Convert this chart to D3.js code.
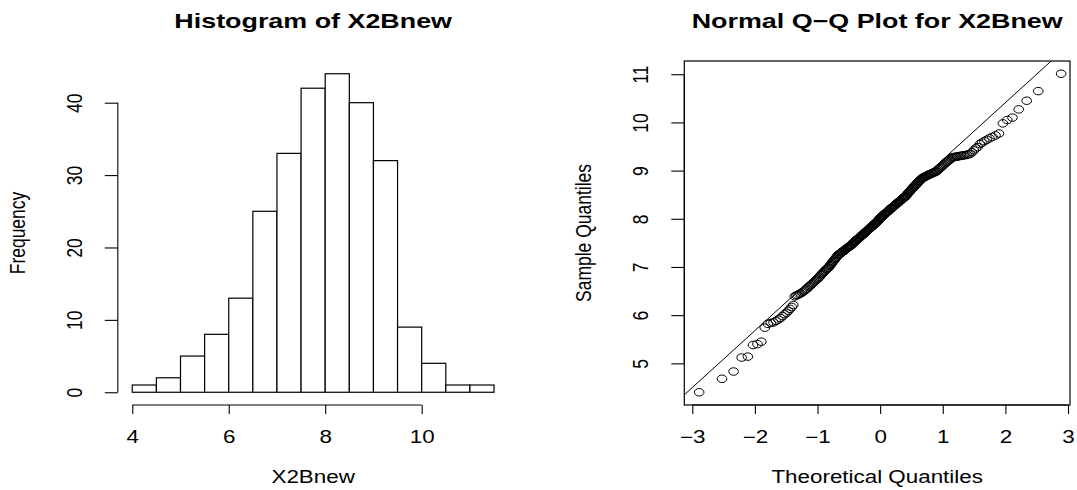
<!DOCTYPE html>
<html>
<head>
<meta charset="utf-8">
<script src="https://cdn.jsdelivr.net/npm/d3@7"></script>
<style>
  body { margin: 0; background: white; }
  svg { display: block; font-family: "Liberation Sans", Arial, sans-serif; }
  .tick line, .axisline { stroke: black; stroke-width: 1.1; }
</style>
</head>
<body>
<svg id="chart" width="1077" height="490"></svg>
<script>
// sorted sample of X2Bnew (n = 260)
var sample = [
  4.40, 4.68, 4.83, 5.12, 5.14, 5.38, 5.40, 5.45, 5.74, 5.82,
  5.84, 5.85, 5.88, 5.91, 5.94, 5.98,
  6.02, 6.05, 6.09, 6.13, 6.17, 6.21, 6.39, 6.41, 6.42, 6.44, 6.45, 6.47, 6.49,
  6.51, 6.53, 6.55, 6.58, 6.60, 6.62, 6.64, 6.66, 6.68, 6.70,
  6.72, 6.74, 6.76, 6.78, 6.80, 6.83, 6.85, 6.87, 6.89, 6.91,
  6.93, 6.95, 6.96, 6.98, 6.99,
  7.02, 7.04, 7.06, 7.09, 7.11, 7.13, 7.15, 7.17, 7.19, 7.21, 7.24,
  7.25, 7.26, 7.27, 7.28, 7.30, 7.31, 7.32, 7.33, 7.34, 7.35,
  7.37, 7.38, 7.39, 7.40, 7.41, 7.42, 7.43, 7.44, 7.45, 7.46, 7.48, 7.49,
  7.51, 7.52, 7.53, 7.54, 7.56, 7.57, 7.58, 7.59, 7.60, 7.61,
  7.62, 7.64, 7.65, 7.66, 7.67, 7.68, 7.69, 7.70, 7.72, 7.73,
  7.74, 7.75, 7.76, 7.77, 7.79, 7.80, 7.81, 7.82, 7.83, 7.84,
  7.85, 7.87, 7.88, 7.89, 7.90, 7.91, 7.92, 7.93, 7.95, 7.96, 7.97, 7.99,
  8.01, 8.02, 8.03, 8.04, 8.05, 8.06, 8.08, 8.09, 8.10, 8.11,
  8.12, 8.13, 8.14, 8.15, 8.16, 8.17, 8.19, 8.20, 8.21, 8.22,
  8.23, 8.24, 8.25, 8.26, 8.27, 8.28, 8.30, 8.31, 8.32, 8.33,
  8.34, 8.35, 8.36, 8.37, 8.38, 8.39, 8.41, 8.42, 8.43, 8.44,
  8.45, 8.46, 8.47, 8.49,
  8.51, 8.53, 8.54, 8.56, 8.57, 8.59, 8.60, 8.62, 8.64, 8.65,
  8.67, 8.68, 8.70, 8.71, 8.73, 8.75, 8.76, 8.78, 8.79, 8.81, 8.82, 8.84,
  8.85, 8.86, 8.87, 8.87, 8.88, 8.89, 8.90, 8.91, 8.92, 8.92,
  8.93, 8.94, 8.95, 8.96, 8.96, 8.97, 8.98, 8.99,
  9.01, 9.03, 9.05, 9.06, 9.08, 9.10, 9.12, 9.14, 9.16, 9.18,
  9.19, 9.21, 9.23, 9.25, 9.27,
  9.28, 9.28, 9.29, 9.29, 9.30, 9.30, 9.31, 9.31, 9.32, 9.32, 9.33, 9.34, 9.35,
  9.38, 9.42, 9.46, 9.49,
  9.55, 9.58, 9.61, 9.64, 9.67, 9.70, 9.73, 9.77, 9.98,
  10.05, 10.10, 10.27, 10.45, 10.65, 11.01
];

var histBreaks = [4, 4.5, 5, 5.5, 6, 6.5, 7, 7.5, 8, 8.5, 9, 9.5, 10, 10.5, 11, 11.5];
var histXTicks = [4, 6, 8, 10];
var histYTicks = [0, 10, 20, 30, 40];
var qqXTicks = [-3, -2, -1, 0, 1, 2, 3];
var qqYTicks = [5, 6, 7, 8, 9, 10, 11];
var qqXLimits = [-3.128, 3.032];

var svg = d3.select("#chart");
var sx = 1.28;          // the picture is stretched sideways
var fs = 17.5, fsMain = 21;
var plotTop = 61, plotBottom = 405;

// inverse normal cdf (Acklam)
function qnorm(p) {
    var a = [-39.69683028665376, 220.9460984245205, -275.9285104469687, 138.3577518672690, -30.66479806614716, 2.506628277459239],
        b = [-54.47609879822406, 161.5858368580409, -155.6989798598866, 66.80131188771972, -13.28068155288572],
        c = [-0.007784894002430293, -0.3223964580411365, -2.400758277161838, -2.549671010615606, 4.374664141464968, 2.938163982698783],
        d = [0.007784695709041462, 0.3224671290700398, 2.445134137142996, 3.754408661907416];
    var q, r;
    if (p < 0.02425) {
        q = Math.sqrt(-2 * Math.log(p));
        return (((((c[0]*q+c[1])*q+c[2])*q+c[3])*q+c[4])*q+c[5]) / ((((d[0]*q+d[1])*q+d[2])*q+d[3])*q+1);
    }
    if (p > 1 - 0.02425) return -qnorm(1 - p);
    q = p - 0.5; r = q * q;
    return (((((a[0]*r+a[1])*r+a[2])*r+a[3])*r+a[4])*r+a[5])*q / (((((b[0]*r+b[1])*r+b[2])*r+b[3])*r+b[4])*r+1);
}

function label(g, txt, x, y, size, rotated, bold) {
    return g.append("text")
        .attr("transform", "translate(" + x + "," + y + ") scale(" + sx + ",1)" + (rotated ? " rotate(-90)" : ""))
        .attr("text-anchor", "middle")
        .attr("font-size", size)
        .attr("font-weight", bold ? "bold" : null)
        .text(txt);
}

// R-like axis: line only between first and last tick
function rAxis(g, axis, scale, ticks, horizontal) {
    g.call(axis);
    g.select(".domain").remove();
    g.selectAll(".tick text").attr("font-size", fs).attr("font-family", null);
    if (horizontal) {
        g.append("line").attr("class", "axisline")
            .attr("x1", scale(ticks[0])).attr("x2", scale(ticks[ticks.length - 1]));
        g.selectAll(".tick text").attr("transform", "scale(" + sx + ",1)");
    } else {
        g.append("line").attr("class", "axisline")
            .attr("y1", scale(ticks[0])).attr("y2", scale(ticks[ticks.length - 1]));
        g.selectAll(".tick text")
            .attr("x", null).attr("dy", null)
            .attr("text-anchor", "middle")
            .attr("transform", "translate(-36,0) scale(" + sx + ",1) rotate(-90)");
    }
}

// 1 ---- histogram
var bins = d3.bin().domain([histBreaks[0], histBreaks[histBreaks.length - 1]])
    .thresholds(histBreaks.slice(1, -1))(sample);
var hx0 = histBreaks[0], hx1 = histBreaks[histBreaks.length - 1];
var hpad = (hx1 - hx0) * 0.04;
var hx = d3.scaleLinear().domain([hx0 - hpad, hx1 + hpad]).range([117.8, 508.5]);
var hmax = d3.max(bins, function (d) { return d.length; });
var hy = d3.scaleLinear().domain([-hmax * 0.04, hmax * 1.04]).range([plotBottom, plotTop]);

var hist = svg.append("g");
hist.selectAll(".bar")
    .data(bins)
    .enter()
    .append("rect")
    .attr("x", function (d) { return hx(d.x0); })
    .attr("y", function (d) { return hy(d.length); })
    .attr("width", function (d) { return hx(d.x1) - hx(d.x0); })
    .attr("height", function (d) { return hy(0) - hy(d.length); })
    .attr("fill", "white")
    .attr("stroke", "black")
    .attr("stroke-width", 1.2);

rAxis(hist.append("g").attr("transform", "translate(0," + plotBottom + ")"),
    d3.axisBottom(hx).tickValues(histXTicks).tickSize(9).tickPadding(17).tickFormat(d3.format("d")),
    hx, histXTicks, true);
rAxis(hist.append("g").attr("transform", "translate(" + hx.range()[0] + ",0)"),
    d3.axisLeft(hy).tickValues(histYTicks).tickSize(13).tickFormat(d3.format("d")),
    hy, histYTicks, false);

var hmid = (hx.range()[0] + hx.range()[1]) / 2;
label(hist, "Histogram of X2Bnew", hmid, 27.5, fsMain, false, true);
label(hist, "X2Bnew", hmid, 483, fs);
label(hist, "Frequency", 25, (plotTop + plotBottom) / 2, fs, true);

// 2 ---- normal Q-Q plot
var n = sample.length;
var theo = sample.map(function (v, i) { return qnorm((i + 0.5) / n); });
var ext = d3.extent(sample), ypad = (ext[1] - ext[0]) * 0.04;
var qx = d3.scaleLinear().domain(qqXLimits).range([684.3, 1070]);
var qy = d3.scaleLinear().domain([ext[0] - ypad, ext[1] + ypad]).range([plotBottom, plotTop]);

var qq = svg.append("g");
qq.append("clipPath").attr("id", "qqclip")
    .append("rect")
    .attr("x", qx.range()[0]).attr("y", plotTop)
    .attr("width", qx.range()[1] - qx.range()[0]).attr("height", plotBottom - plotTop);

qq.selectAll(".pt")
    .data(sample)
    .enter()
    .append("ellipse")
    .attr("cx", function (d, i) { return qx(theo[i]); })
    .attr("cy", function (d) { return qy(d); })
    .attr("rx", 4.8)
    .attr("ry", 3.75)
    .attr("fill", "none")
    .attr("stroke", "black")
    .attr("stroke-width", 1);

// qqline through the quartiles
var q1 = d3.quantile(sample, 0.25), q3 = d3.quantile(sample, 0.75);
var z1 = qnorm(0.25), z3 = qnorm(0.75);
var slope = (q3 - q1) / (z3 - z1), icpt = q1 - slope * z1;
qq.append("line")
    .attr("clip-path", "url(#qqclip)")
    .attr("x1", qx(qqXLimits[0])).attr("y1", qy(icpt + slope * qqXLimits[0]))
    .attr("x2", qx(qqXLimits[1])).attr("y2", qy(icpt + slope * qqXLimits[1]))
    .attr("stroke", "black")
    .attr("stroke-width", 1);

qq.append("rect")
    .attr("x", qx.range()[0]).attr("y", plotTop)
    .attr("width", qx.range()[1] - qx.range()[0]).attr("height", plotBottom - plotTop)
    .attr("fill", "none")
    .attr("stroke", "black")
    .attr("stroke-width", 1.2);

rAxis(qq.append("g").attr("transform", "translate(0," + plotBottom + ")"),
    d3.axisBottom(qx).tickValues(qqXTicks).tickSize(9).tickPadding(17).tickFormat(d3.format("d")),
    qx, qqXTicks, true);
rAxis(qq.append("g").attr("transform", "translate(" + qx.range()[0] + ",0)"),
    d3.axisLeft(qy).tickValues(qqYTicks).tickSize(13).tickFormat(d3.format("d")),
    qy, qqYTicks, false);

var qmid = (qx.range()[0] + qx.range()[1]) / 2;
label(qq, "Normal Q\u2212Q Plot for X2Bnew", qmid, 27.5, fsMain, false, true);
label(qq, "Theoretical Quantiles", qmid, 483, fs);
label(qq, "Sample Quantiles", qx.range()[0] - 93, (plotTop + plotBottom) / 2, fs, true);
</script>
</body>
</html>
